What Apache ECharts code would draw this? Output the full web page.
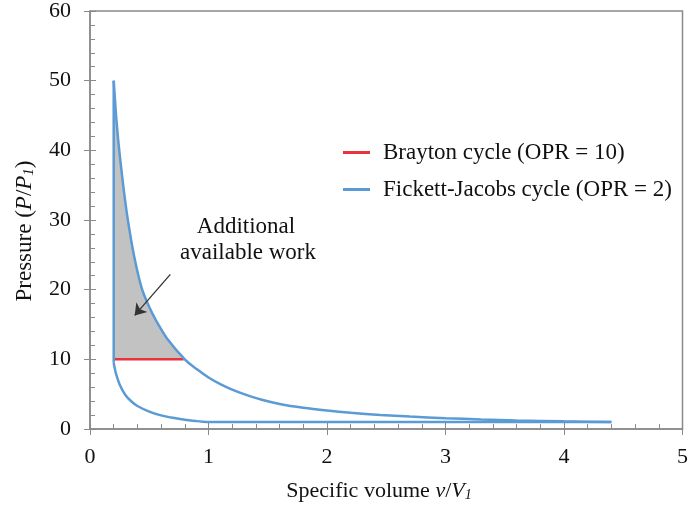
<!DOCTYPE html>
<html>
<head>
<meta charset="utf-8">
<script src="https://cdn.jsdelivr.net/npm/echarts@6/dist/echarts.min.js"></script>
<style>
html,body{margin:0;padding:0;background:#fff;}
#chart{width:691px;height:507px;}
</style>
</head>
<body>
<div id="chart"></div>
<script>
// ---- data ----
const xTicks = [0, 1, 2, 3, 4, 5];
const yTicks = [0, 10, 20, 30, 40, 50, 60];
// expansion (v, P) from peak to end
const expansionV = [0.2, 0.21, 0.22, 0.235, 0.25, 0.28, 0.315, 0.37, 0.435, 0.5, 0.56, 0.65, 0.8, 0.9, 1.0, 1.1, 1.2, 1.3, 1.45, 1.6, 1.8, 2.0, 2.2, 2.45, 2.7, 3.0, 3.3, 3.6, 4.0, 4.4];
const expansionP = [50, 47.5, 45, 42, 39.5, 35, 30.5, 25, 20.3, 17.5, 15.5, 13.0, 10.0, 8.6, 7.4, 6.45, 5.65, 5.0, 4.2, 3.6, 3.05, 2.65, 2.33, 2.02, 1.78, 1.55, 1.37, 1.23, 1.1, 1.0];
// low-pressure isobar followed by compression (v, P) from v=1 down to v=0.2
const compressionV = [4.4, 1.1, 1.0, 0.95, 0.9, 0.8, 0.7, 0.6, 0.5, 0.4, 0.35, 0.3, 0.25, 0.22, 0.21, 0.2];
const compressionP = [1.0, 1.0, 1.0, 1.05, 1.13, 1.33, 1.6, 1.95, 2.5, 3.3, 3.95, 4.85, 6.4, 7.9, 8.6, 9.5];
// constant-volume pressure rise
const isochoreV = [0.2, 0.2];
const isochoreP = [9.5, 50];
// Brayton heat-addition line
const braytonV = [0.2, 0.79];
const braytonP = [10, 10];
// arrow (from, to) in data coordinates
const arrowFrom = [0.678, 22.2];
const arrowTo = [0.377, 16.3];
const seriesNames = ['Brayton cycle (OPR = 10)', 'Fickett-Jacobs cycle (OPR = 2)'];
const annotationLines = ['Additional', 'available work'];

// ---- build series data ----
const zip = (xs, ys) => xs.map((x, i) => [x, ys[i]]);
const expansionData = zip(expansionV, expansionP);
const compressionData = zip(compressionV, compressionP);
const isochoreData = zip(isochoreV, isochoreP);
const braytonData = zip(braytonV, braytonP);

// polygon for shaded area: vertical at v=0.2, expansion curve down to P=10, back along P=10
const fillPts = [[braytonV[0], braytonP[0]]];
for (let i = 0; i < expansionV.length; i++) {
  if (expansionP[i] >= braytonP[0]) fillPts.push([expansionV[i], expansionP[i]]);
}

const serif = '"Liberation Serif", "DejaVu Serif", serif';
const axisGray = '#8a8a8a';
const blue = '#5b9bd5';
const red = '#e8323c';
const mkRich = (fs) => ({
  t: { fontFamily: serif, fontSize: fs, fill: '#111' },
  i: { fontFamily: serif, fontSize: fs, fontStyle: 'italic', fill: '#111' },
  s: { fontFamily: serif, fontSize: Math.round(fs * 0.64), fontStyle: 'italic', fill: '#111', verticalAlign: 'bottom', padding: [9, 0, 0, 0] }
});

const blueLine = (name, data, smooth, z) => ({
  type: 'line', name: name, data: data, showSymbol: false, symbol: 'none', z: z,
  smooth: smooth,
  itemStyle: { color: blue }, lineStyle: { color: blue, width: 2.5 }
});

const chart = echarts.init(document.getElementById('chart'));
chart.setOption({
  animation: false,
  backgroundColor: '#fff',
  grid: { left: 90, right: 3, top: 10, bottom: 78, show: true, borderColor: axisGray, borderWidth: 1.5, backgroundColor: 'transparent' },
  legend: {
    orient: 'vertical', left: 343, top: 141, padding: 0, itemWidth: 27, itemHeight: 3, itemGap: 14, icon: 'rect',
    data: seriesNames,
    textStyle: { fontFamily: serif, fontSize: 23, color: '#111', padding: [0, 0, 0, 8] }
  },
  xAxis: [{
    type: 'value', min: 0, max: 5, interval: 1, position: 'bottom',
    axisLine: { show: true, lineStyle: { color: axisGray, width: 1.5 } },
    axisTick: { show: true, inside: false, length: 6, lineStyle: { color: axisGray } },
    axisLabel: { margin: 17, fontFamily: serif, fontSize: 22, color: '#111', formatter: v => xTicks.includes(v) ? String(v) : '' },
    splitLine: { show: false }
  }, {
    type: 'value', min: 0, max: 5, interval: 1, position: 'bottom',
    axisLine: { show: false }, axisLabel: { show: false }, splitLine: { show: false },
    axisTick: { show: true, inside: true, length: 6, lineStyle: { color: axisGray } },
    minorTick: { show: true, splitNumber: 5, length: 5, lineStyle: { color: axisGray } }
  }],
  yAxis: [{
    type: 'value', min: 0, max: 60, interval: 10, position: 'left',
    axisLine: { show: true, lineStyle: { color: axisGray, width: 1.5 } },
    axisTick: { show: true, inside: false, length: 6, lineStyle: { color: axisGray } },
    axisLabel: { margin: 19, fontFamily: serif, fontSize: 22, color: '#111', formatter: v => yTicks.includes(v) ? String(v) : '' },
    splitLine: { show: false }
  }, {
    type: 'value', min: 0, max: 60, interval: 10, position: 'left',
    axisLine: { show: false }, axisLabel: { show: false }, splitLine: { show: false },
    axisTick: { show: true, inside: true, length: 6, lineStyle: { color: axisGray } },
    minorTick: { show: true, splitNumber: 5, length: 5, lineStyle: { color: axisGray } }
  }],
  graphic: [
    { type: 'text', x: 25, y: 231, rotation: Math.PI / 2,
      style: { text: '{t|Pressure (}{i|P}{t|/}{i|P}{s|1}{t|)}', rich: mkRich(23), align: 'center', verticalAlign: 'middle' } },
    { type: 'text', x: 379, y: 491,
      style: { text: '{t|Specific volume }{i|v}{t|/}{i|V}{s|1}', rich: mkRich(22), align: 'center', verticalAlign: 'middle' } },
    { type: 'text', style: { text: annotationLines[0], x: 246, y: 227, align: 'center', verticalAlign: 'middle', fontFamily: serif, fontSize: 23, fill: '#111' } },
    { type: 'text', style: { text: annotationLines[1], x: 248, y: 253, align: 'center', verticalAlign: 'middle', fontFamily: serif, fontSize: 23, fill: '#111' } }
  ],
  series: [
    {
      type: 'custom', name: 'fill', silent: true, z: 1,
      data: [0],
      renderItem: function (params, api) {
        const pts = fillPts.map(p => api.coord(p));
        return { type: 'polygon', shape: { points: pts }, style: { fill: '#c2c2c2', stroke: null } };
      }
    },
    {
      type: 'line', name: seriesNames[0], data: braytonData, showSymbol: false, symbol: 'none', z: 3,
      itemStyle: { color: red }, lineStyle: { color: red, width: 2.5 },
      markLine: {
        silent: true, symbol: ['none', 'arrow'], symbolSize: 11,
        label: { show: false },
        lineStyle: { color: '#333', width: 1.3, type: 'solid' },
        data: [[{ coord: arrowFrom }, { coord: arrowTo }]]
      }
    },
    blueLine(seriesNames[1], compressionData, 0.3, 4),
    blueLine(seriesNames[1], isochoreData, false, 4),
    blueLine(seriesNames[1], expansionData, 0.3, 4)
  ]
});
</script>
</body>
</html>
